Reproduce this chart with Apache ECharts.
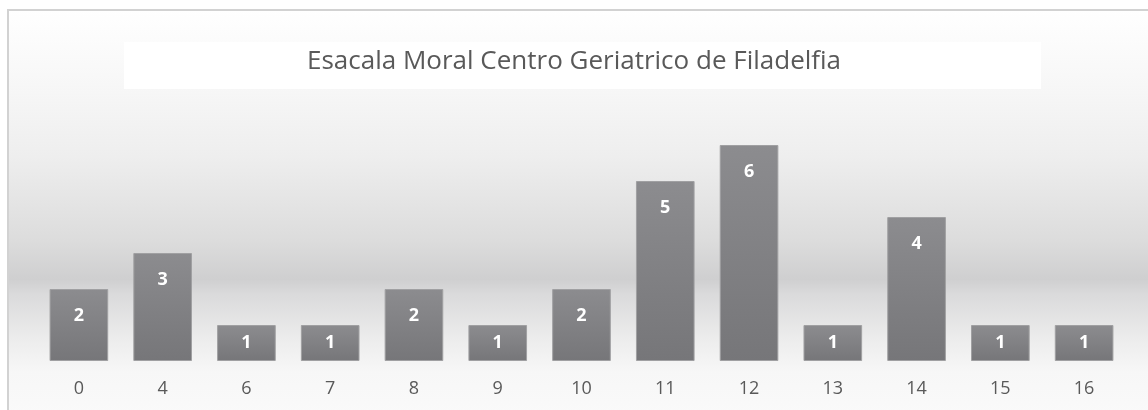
<!DOCTYPE html>
<html>
<head>
<meta charset="utf-8">
<script src="https://cdn.jsdelivr.net/npm/echarts@6/dist/echarts.min.js"></script>
<style>
  html, body { margin: 0; padding: 0; background: #ffffff; }
  #chart { width: 1148px; height: 410px; }
</style>
</head>
<body>
<div id="chart"></div>
<script>
// puntajes de la escala y numero de personas por puntaje
var categories = ['0', '4', '6', '7', '8', '9', '10', '11', '12', '13', '14', '15', '16'];
var counts = [2, 3, 1, 1, 2, 1, 2, 5, 6, 1, 4, 1, 1];
var titleText = 'Esacala Moral Centro Geriatrico de Filadelfia';

var chart = echarts.init(document.getElementById('chart'));

// etiqueta arriba dentro de la barra; las barras chicas van centradas
var barData = counts.map(function (v) {
    return {
        value: v,
        label: v <= 1 ? { position: 'inside' } : { position: 'insideTop', distance: 18 }
    };
});

var option = {
    animation: false,
    backgroundColor: '#ffffff',
    graphic: {
        elements: [
            {
                type: 'rect',
                shape: { x: 8, y: 10, width: 1160, height: 420 },
                style: {
                    stroke: '#d2d2d2',
                    lineWidth: 2,
                    fill: {
                        type: 'linear', x: 0, y: 0, x2: 0, y2: 1,
                        colorStops: [
                            { offset: 0, color: '#ffffff' },
                            { offset: 0.18, color: '#f7f7f7' },
                            { offset: 0.35, color: '#eeeeee' },
                            { offset: 0.55, color: '#dcdcdc' },
                            { offset: 0.64, color: '#cfcfd0' },
                            { offset: 0.675, color: '#dadadb' },
                            { offset: 0.78, color: '#ececec' },
                            { offset: 0.86, color: '#f7f7f7' },
                            { offset: 1, color: '#fbfbfb' }
                        ]
                    }
                },
                silent: true
            },
            {
                type: 'rect',
                shape: { x: 124, y: 42, width: 917, height: 47 },
                style: { fill: '#ffffff' },
                silent: true
            }
        ]
    },
    title: {
        text: titleText,
        left: 'center',
        top: 44,
        textStyle: {
            fontFamily: 'Open Sans',
            fontSize: 26,
            fontWeight: 'normal',
            color: '#595959'
        }
    },
    grid: {
        left: 37,
        right: 22,
        top: 145,
        bottom: 49
    },
    xAxis: {
        type: 'category',
        data: categories,
        axisLine: { show: false },
        axisTick: { show: false },
        axisLabel: {
            color: '#595959',
            fontFamily: 'Open Sans',
            fontSize: 18,
            margin: 19
        }
    },
    yAxis: {
        type: 'value',
        min: 0,
        max: 6,
        show: false,
        splitLine: { show: false }
    },
    series: [
        {
            type: 'bar',
            data: barData,
            barCategoryGap: '30%',
            itemStyle: {
                color: {
                    type: 'linear', x: 0, y: 0, x2: 0, y2: 1,
                    colorStops: [
                        { offset: 0, color: '#8c8c8f' },
                        { offset: 1, color: '#767679' }
                    ]
                },
                borderColor: '#a0a0a2',
                borderWidth: 1
            },
            label: {
                show: true,
                color: '#ffffff',
                fontFamily: 'Open Sans',
                fontWeight: 'bold',
                fontSize: 18
            }
        }
    ]
};

chart.setOption(option);
</script>
</body>
</html>
